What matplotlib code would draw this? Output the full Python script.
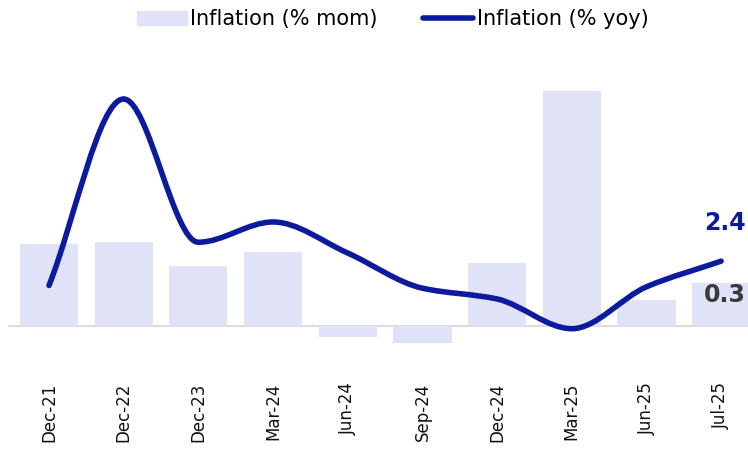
import matplotlib
matplotlib.use("Agg")
import matplotlib.pyplot as plt
from matplotlib.path import Path
from matplotlib.patches import PathPatch
from matplotlib.lines import Line2D
from matplotlib.patches import Patch

# data
labels = ["Dec-21", "Dec-22", "Dec-23", "Mar-24", "Jun-24", "Sep-24",
          "Dec-24", "Mar-25", "Jun-25", "Jul-25"]
mom = [0.57, 0.59, 0.42, 0.52, -0.08, -0.12, 0.44, 1.64, 0.18, 0.30]
yoy = [1.5, 8.4, 3.1, 3.85, 2.7, 1.4, 1.0, -0.1, 1.45, 2.4]

BAR = "#e0e2f7"
LINE = "#0c1a9e"

fig = plt.figure(figsize=(7.48, 4.75), dpi=100)
ax = fig.add_axes([0, 0.242, 1, 0.611])
ax2 = ax.twinx()

x = list(range(len(labels)))
ax.bar(x, mom, width=0.78, color=BAR, zorder=1)
ax.set_xlim(-0.656, 9.36)
ax.set_ylim(-0.238, 1.79)
ax2.set_ylim(-1.26, 9.48)
ax.axhline(0, color="#dcdcdc", lw=1.5, zorder=0, xmin=0.012)


# smooth monotone curve (drawn as bezier segments through the data points)
def monotone_path(xs, ys):
    n = len(xs)
    d = [(ys[i + 1] - ys[i]) / (xs[i + 1] - xs[i]) for i in range(n - 1)]
    m = [0.0] * n
    m[0], m[-1] = d[0], d[-1]
    for i in range(1, n - 1):
        if d[i - 1] * d[i] <= 0:
            m[i] = 0.0
        else:
            m[i] = 2 / (1 / d[i - 1] + 1 / d[i])
    verts = [(xs[0], ys[0])]
    codes = [Path.MOVETO]
    for i in range(n - 1):
        h = xs[i + 1] - xs[i]
        verts += [(xs[i] + h / 3, ys[i] + m[i] * h / 3),
                  (xs[i + 1] - h / 3, ys[i + 1] - m[i + 1] * h / 3),
                  (xs[i + 1], ys[i + 1])]
        codes += [Path.CURVE4] * 3
    return Path(verts, codes)


patch = PathPatch(monotone_path(x, yoy), facecolor="none", edgecolor=LINE,
                  lw=4, capstyle="round", joinstyle="round", zorder=3)
ax2.add_patch(patch)

for a in (ax, ax2):
    for s in a.spines.values():
        s.set_visible(False)
    a.set_yticks([])
ax2.tick_params(axis="both", length=0)
ax.set_xticks(x)
ax.set_xticklabels(labels, rotation=90, fontsize=12, color="#111111")
ax.tick_params(axis="x", length=0, pad=16)

ax2.text(9.05, yoy[-1] + 1.4, "2.4", color=LINE, fontsize=17, fontweight="bold",
         ha="center", va="center")
ax.text(9.05, mom[-1] - 0.08, "0.3", color="#3a3a3a", fontsize=17,
        fontweight="bold", ha="center", va="center")

handles = [Patch(color=BAR), Line2D([], [], color=LINE, lw=4, solid_capstyle="round")]
fig.legend(handles, ["Inflation (% mom)", "Inflation (% yoy)"], loc="upper center",
           bbox_to_anchor=(0.525, 1.02), ncol=2, frameon=False,
           prop={"size": 15}, handlelength=2.4,
           handletextpad=0.15, columnspacing=2.2)

fig.savefig("out.png", dpi=100)
